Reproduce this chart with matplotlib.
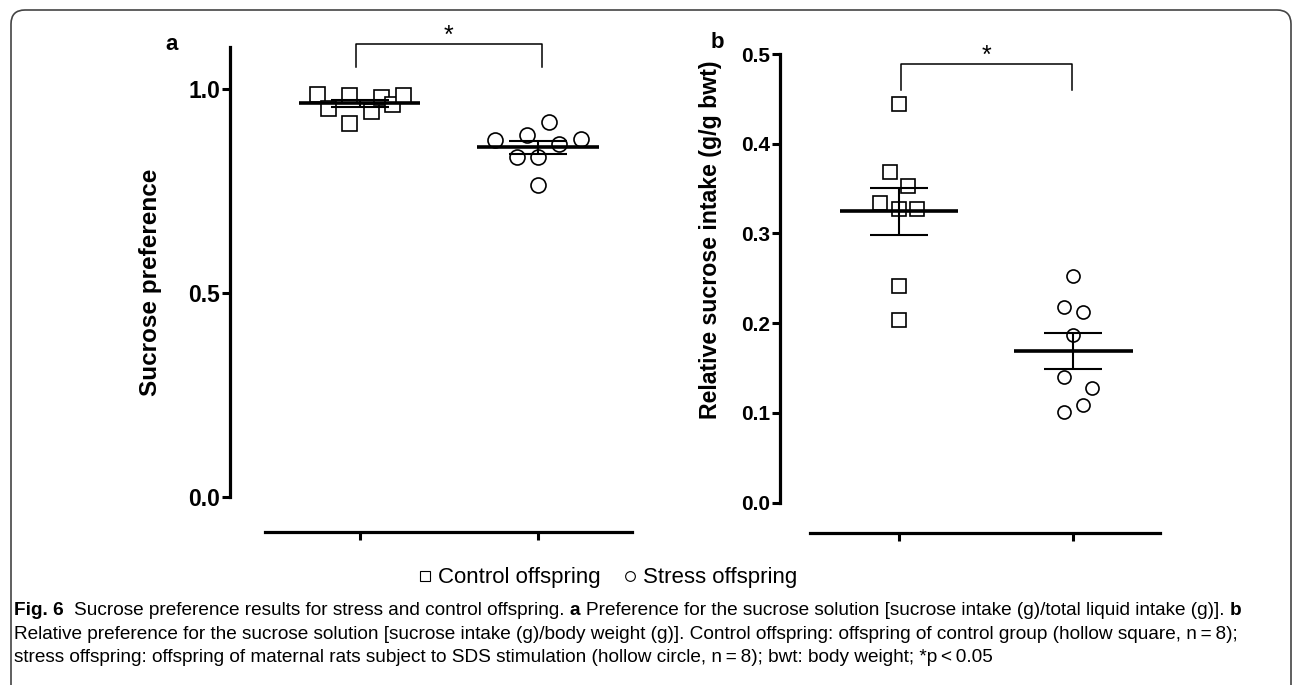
import numpy as np
import matplotlib
matplotlib.use("Agg")
import matplotlib.pyplot as plt
from matplotlib import font_manager
from matplotlib.lines import Line2D
from matplotlib.patches import FancyBboxPatch
from matplotlib.transforms import IdentityTransform

# data
groups = ["Control offspring", "Stress offspring"]
ctrl_pref = [0.989, 0.953, 0.985, 0.917, 0.947, 0.980, 0.963, 0.985]
ctrl_pref_dx = [-0.24, -0.18, -0.06, -0.06, 0.06, 0.12, 0.18, 0.24]
stress_pref = [0.875, 0.834, 0.887, 0.834, 0.920, 0.865, 0.877, 0.765]
stress_pref_dx = [-0.24, -0.12, -0.06, 0.0, 0.06, 0.12, 0.24, 0.0]
ctrl_intake = [0.444, 0.369, 0.353, 0.334, 0.327, 0.327, 0.241, 0.204]
ctrl_intake_dx = [0.0, -0.054, 0.052, -0.11, 0.0, 0.105, 0.0, 0.0]
stress_intake = [0.253, 0.218, 0.213, 0.187, 0.140, 0.128, 0.109, 0.101]
stress_intake_dx = [0.0, -0.053, 0.054, 0.0, -0.052, 0.106, 0.054, -0.052]

pref_ticks = [0.0, 0.5, 1.0]
intake_ticks = [0.0, 0.1, 0.2, 0.3, 0.4, 0.5]

caption = [
    [("Fig. 6", True), ("  Sucrose preference results for stress and control offspring. ", False),
     ("a", True), (" Preference for the sucrose solution [sucrose intake (g)/total liquid intake (g)]. ", False),
     ("b", True)],
    [("Relative preference for the sucrose solution [sucrose intake (g)/body weight (g)]. Control offspring: "
      "offspring of control group (hollow square, n\u2009=\u20098);", False)],
    [("stress offspring: offspring of maternal rats subject to SDS stimulation (hollow circle, n\u2009=\u20098); "
      "bwt: body weight; *p\u2009<\u20090.05", False)],
]

W, H = 1293, 685
plt.rcParams['font.family'] = ['Liberation Sans', 'DejaVu Sans']
fig = plt.figure(figsize=(W / 100, H / 100), dpi=100)


def px_axes(x0, y0, x1, y1):
    return fig.add_axes([x0 / W, 1 - y1 / H, (x1 - x0) / W, (y1 - y0) / H])


def panel(ax, ctrl, ctrl_dx, stress, stress_dx, ms, drop, xl, xr, spine_l, tsize):
    ax.plot(np.array(ctrl_dx), ctrl, ls="none", marker="s", ms=ms, mfc="white", mec="black", mew=1.2, zorder=3)
    ax.plot(1 + np.array(stress_dx), stress, ls="none", marker="o", ms=ms, mfc="white", mec="black", mew=1.2, zorder=3)
    for i, vals in enumerate([ctrl, stress]):
        m = np.mean(vals)
        sem = np.std(vals, ddof=1) / np.sqrt(len(vals))
        ax.hlines(m, i - 0.34, i + 0.34, color="black", lw=2.6, zorder=4)
        ax.errorbar(i, m, yerr=sem, color="black", lw=1.5, capsize=21, capthick=1.5, zorder=4)
    ax.set_xlim(xl, xr)
    for s in ["top", "right"]:
        ax.spines[s].set_visible(False)
    ax.spines["left"].set_linewidth(2.3)
    ax.spines["bottom"].set_linewidth(2.3)
    ax.spines["bottom"].set_position(("outward", drop))
    ax.spines["bottom"].set_bounds(spine_l, xr)
    ax.set_xticks([0, 1])
    ax.set_xticklabels([])
    ax.tick_params(axis="both", length=6, width=2.2, direction="out", pad=1)
    for lab in ax.get_yticklabels():
        lab.set_fontweight("bold")
        lab.set_fontsize(tsize)


# panel a
ax1 = px_axes(230, 47, 632, 497)
ax1.set_ylim(0, 1.103)
ax1.set_yticks(pref_ticks)
ax1.set_yticklabels([f"{t:.1f}" for t in pref_ticks])
panel(ax1, ctrl_pref, ctrl_pref_dx, stress_pref, stress_pref_dx, 10.8, 25, -0.73, 1.528, -0.534, 16.5)
ax1.set_ylabel("Sucrose preference", fontsize=17.5, fontweight="bold")
ax1.yaxis.set_label_coords(-0.169, 0.478)
ax1.plot([-0.02, -0.02, 1.02, 1.02], [1.055, 1.11, 1.11, 1.055], color="black", lw=1.1, clip_on=False)
ax1.text(0.5, 1.13, "*", ha="center", va="center", fontsize=18)
fig.text(172 / W, 1 - 45 / H, "a", fontsize=16, fontweight="bold", ha="center", va="center")

# panel b
ax2 = px_axes(780, 54, 1160, 502.7)
ax2.set_ylim(0, 0.5)
ax2.set_yticks(intake_ticks)
ax2.set_yticklabels([f"{t:.1f}" for t in intake_ticks])
panel(ax2, ctrl_intake, ctrl_intake_dx, stress_intake, stress_intake_dx, 9.4, 22, -0.683, 1.497, -0.511, 15)
ax2.set_ylabel("Relative sucrose intake (g/g bwt)", fontsize=16.7, fontweight="bold")
ax2.yaxis.set_label_coords(-0.153, 0.585)
ax2.plot([0.01, 0.01, 0.99, 0.99], [0.46, 0.489, 0.489, 0.46], color="black", lw=1.1, clip_on=False)
ax2.text(0.5, 0.498, "*", ha="center", va="center", fontsize=18)
fig.text(717 / W, 1 - 43 / H, "b", fontsize=16, fontweight="bold", ha="center", va="center")

# legend
handles = [Line2D([], [], ls="none", marker="s", ms=7, mfc="white", mec="black", mew=0.8),
           Line2D([], [], ls="none", marker="o", ms=7, mfc="white", mec="black", mew=0.8)]
fig.legend(handles, groups, loc="center", bbox_to_anchor=(608 / W, 1 - 578 / H), ncol=2, frameon=False,
           fontsize=16, handlelength=0.6, handletextpad=0.3, columnspacing=1.0)

# caption
names = {f.name for f in font_manager.fontManager.ttflist}
cap_family = ["Liberation Sans Narrow", "DejaVu Sans"] if "Liberation Sans Narrow" in names else ["Liberation Sans", "DejaVu Sans"]
renderer = fig.canvas.get_renderer()


def width_of(s, size, bold):
    t = fig.text(0, 0, s, fontsize=size, fontweight="bold" if bold else "normal", family=cap_family)
    w = t.get_window_extent(renderer).width
    t.remove()
    return w


def draw_line(parts, y, size):
    x = 14
    sp = width_of("x x", size, False) - width_of("xx", size, False)
    for s, bold in parts:
        lead = len(s) - len(s.lstrip(" "))
        trail = len(s) - len(s.rstrip(" "))
        x += lead * sp
        core = s.strip(" ")
        t = fig.text(x / W, 1 - y / H, core, fontsize=size, fontweight="bold" if bold else "normal",
                     family=cap_family, ha="left", va="baseline")
        x += t.get_window_extent(renderer).width + trail * sp


base = 10.0
total = sum(width_of(s.strip(" "), base, b) for s, b in caption[0]) + 6 * (width_of("x x", base, False) - width_of("xx", base, False))
cap_size = base * (1261 - 14) / total
for parts, y in zip(caption, [615, 639, 662]):
    draw_line(parts, y, cap_size)

# rounded frame
fig.patches.append(FancyBboxPatch((11, -30), 1280, 705, boxstyle="round,pad=0,rounding_size=14",
                                  transform=IdentityTransform(), fill=False, ec="#444444", lw=1.2))

fig.savefig("out.png", dpi=100)
